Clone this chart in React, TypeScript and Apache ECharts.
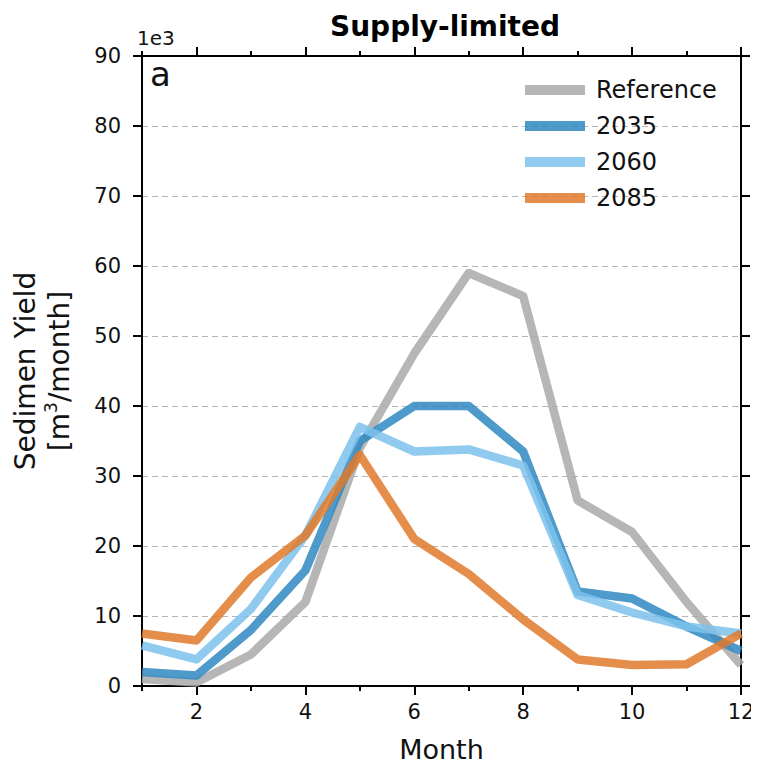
import React, { useEffect, useRef } from "react";
import * as echarts from "echarts";

// Monthly sediment yield, in thousands of m³ per month
const months = [1, 2, 3, 4, 5, 6, 7, 8, 9, 10, 11, 12];
const referenceYield = [1.0, 0.5, 4.5, 12.0, 34.0, 47.5, 59.0, 55.7, 26.5, 22.0, 12.0, 3.0];
const yield2035 = [2.0, 1.5, 8.0, 16.5, 35.0, 40.0, 40.0, 33.5, 13.5, 12.5, 8.5, 5.0];
const yield2060 = [5.8, 3.8, 11.0, 21.5, 37.0, 33.5, 33.8, 31.5, 13.0, 10.5, 8.5, 7.5];
const yield2085 = [7.5, 6.5, 15.5, 21.5, 33.0, 21.0, 16.0, 9.5, 3.8, 3.0, 3.1, 7.5];

const seriesNames = ["Reference", "2035", "2060", "2085"];
const seriesColors = ["#a9a9a9", "#2f88c2", "#7cc2ec", "#e07a2c"];
const seriesValues = [referenceYield, yield2035, yield2060, yield2085];

const majorMonthTicks = [2, 4, 6, 8, 10, 12];
const minorMonthTicks = [1, 3, 5, 7, 9, 11];

const FONT = "DejaVu Sans";

export default function App() {
  const ref = useRef<HTMLDivElement>(null);

  useEffect(() => {
    if (!ref.current) return;
    const chart = echarts.init(ref.current, null, { renderer: "svg" });

    const axisLine = { show: true, lineStyle: { color: "#000", width: 2 } };

    const xAxisBase = (position: "top" | "bottom", major: boolean, withLabels: boolean) => ({
      type: "value" as const,
      position,
      min: 1,
      max: 12,
      interval: 1,
      axisLine,
      axisTick: {
        show: true,
        customValues: major ? majorMonthTicks : minorMonthTicks,
        length: major ? 9 : 5,
        lineStyle: { color: "#000", width: 2 },
      },
      axisLabel: withLabels
        ? {
            show: true,
            customValues: majorMonthTicks,
            fontFamily: FONT,
            fontSize: 21,
            color: "#111",
            margin: 15,
          }
        : { show: false },
      splitLine: { show: false },
      name: position === "bottom" && major ? "Month" : "",
      nameLocation: "middle" as const,
      nameGap: 50,
      nameTextStyle: { fontFamily: FONT, fontSize: 27, color: "#111" },
    });

    const yAxisBase = (position: "left" | "right") => ({
      type: "value" as const,
      position,
      min: 0,
      max: 90,
      interval: 10,
      axisLine,
      axisTick: { show: true, length: 9, lineStyle: { color: "#000", width: 2 } },
      axisLabel:
        position === "left"
          ? { show: true, fontFamily: FONT, fontSize: 21, color: "#111", margin: 21 }
          : { show: false },
      splitLine:
        position === "left"
          ? { show: true, lineStyle: { color: "#b5b5b5", type: [6, 4] as any, width: 1.2 } }
          : { show: false },
      name: position === "left" ? "Sedimen Yield\n[m{sup|3}/month]" : "",
      nameLocation: "middle" as const,
      nameGap: 66,
      nameRotate: 90,
      nameTextStyle: {
        fontFamily: FONT,
        fontSize: 28,
        color: "#111",
        lineHeight: 34,
        rich: {
          sup: { fontFamily: FONT, fontSize: 17, verticalAlign: "top", lineHeight: 34, color: "#111", padding: [0, 0, 14, 0] },
        },
      },
    });

    chart.setOption({
      animation: false,
      backgroundColor: "#fff",
      title: {
        text: "Supply-limited",
        left: 440,
        top: 7,
        textAlign: "center",
        textStyle: { fontFamily: FONT, fontSize: 28, fontWeight: "bold", color: "#000" },
      },
      grid: { left: 137, right: 18, top: 56, bottom: 89, containLabel: false },
      xAxis: [
        xAxisBase("bottom", true, true),
        xAxisBase("bottom", false, false),
        xAxisBase("top", true, false),
        xAxisBase("top", false, false),
      ],
      yAxis: [yAxisBase("left"), yAxisBase("right")],
      legend: {
        orient: "vertical",
        left: 520,
        top: 73,
        icon: "rect",
        itemWidth: 60,
        itemHeight: 10,
        itemGap: 12,
        data: seriesNames,
        textStyle: { fontFamily: FONT, fontSize: 24, color: "#111", padding: [0, 0, 0, 6] },
      },
      graphic: [
        {
          type: "text",
          left: 137,
          top: 28,
          style: { text: "1e3", fontFamily: FONT, fontSize: 20, fill: "#111" },
        },
        {
          type: "text",
          left: 150,
          top: 57,
          style: { text: "a", fontFamily: FONT, fontSize: 34, fill: "#111" },
        },
      ],
      series: seriesNames.map((name, i) => ({
        name,
        type: "line",
        xAxisIndex: 0,
        yAxisIndex: 0,
        data: months.map((m, k) => [m, seriesValues[i][k]]),
        symbol: "none",
        color: seriesColors[i],
        lineStyle: { color: seriesColors[i], width: 8.5, opacity: 0.85, join: "round" },
        itemStyle: { color: seriesColors[i], opacity: 0.85 },
        clip: true,
      })),
    });

    return () => chart.dispose();
  }, []);

  return <div ref={ref} style={{ width: 759, height: 775, margin: -8 }} />;
}
